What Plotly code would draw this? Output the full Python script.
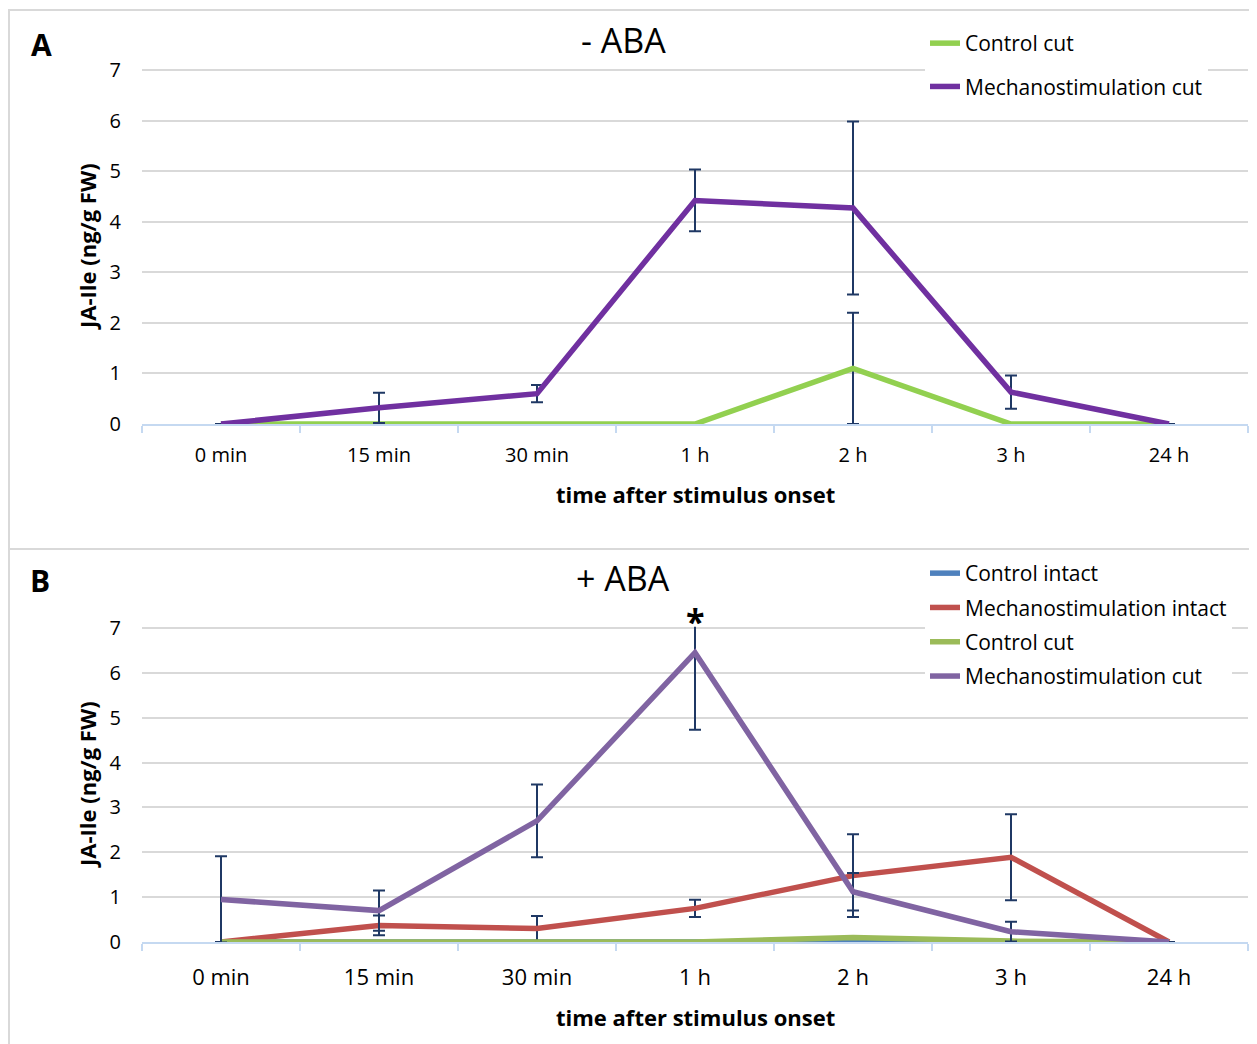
import plotly.graph_objects as go

# ---------------- data ----------------
categories = ["0 min", "15 min", "30 min", "1 h", "2 h", "3 h", "24 h"]
y_ticks = [0, 1, 2, 3, 4, 5, 6, 7]

# Panel A (- ABA)
a_control_cut = [0, 0, 0, 0, 1.10, 0, 0]
a_control_cut_err = [0, 0, 0, 0, 1.10, 0, 0]
a_mech_cut = [0, 0.32, 0.60, 4.42, 4.27, 0.63, 0]
a_mech_cut_err = [0, 0.30, 0.17, 0.61, 1.71, 0.33, 0]

# Panel B (+ ABA)
b_control_intact = [0, 0, 0, 0, 0, 0, 0]
b_mech_intact = [0, 0.37, 0.30, 0.75, 1.48, 1.89, 0]
b_mech_intact_err = [0, 0.22, 0.28, 0.19, 0.92, 0.96, 0]
b_control_cut = [0, 0, 0, 0, 0.10, 0.02, 0]
b_mech_cut = [0.95, 0.70, 2.70, 6.45, 1.12, 0.23, 0]
b_mech_cut_err = [0.96, 0.45, 0.81, 1.72, 0.42, 0.22, 0]

# ---------------- style ----------------
W, H = 1257, 1044
OFF = 8  # page body margin offset
FONT = "Open Sans"
ERR_COLOR = "#1F3864"
GRID = "#D9D9D9"
AXIS_BLUE = "#C5D9F1"
Y_TOP = 7.03  # small headroom so the 7 gridline is drawn inside the plot


def px_x(p):
    return (p - OFF) / W


def px_y(p):
    return 1 - (p - OFF) / H


def y_domain(px_zero, px_seven):
    unit = (px_zero - px_seven) / 7.0
    top = px_seven - (Y_TOP - 7) * unit
    return [px_y(px_zero), px_y(top)]


fig = go.Figure()


def err(vals):
    return dict(type="data", array=vals, visible=True, color=ERR_COLOR,
                thickness=2, width=6)


def add_line(x_ax, y_ax, y, name, color, legend, group, e=None):
    fig.add_trace(go.Scatter(
        x=categories, y=y, name=name, mode="lines",
        line=dict(color=color, width=5.5),
        error_y=err(e) if e is not None else None,
        xaxis=x_ax, yaxis=y_ax, legend=legend, legendgroup=group,
        hoverinfo="x+y+name",
    ))


# Panel A
add_line("x", "y", a_control_cut, "Control cut", "#92D050", "legend", "a1", a_control_cut_err)
add_line("x", "y", a_mech_cut, "Mechanostimulation cut", "#7030A0", "legend", "a2", a_mech_cut_err)

# Panel B
add_line("x2", "y2", b_control_intact, "Control intact", "#4F81BD", "legend2", "b1")
add_line("x2", "y2", b_mech_intact, "Mechanostimulation intact", "#C0504D", "legend2", "b2", b_mech_intact_err)
add_line("x2", "y2", b_control_cut, "Control cut", "#9BBB59", "legend2", "b3")
add_line("x2", "y2", b_mech_cut, "Mechanostimulation cut", "#8064A2", "legend2", "b4", b_mech_cut_err)

xdom = [px_x(142), px_x(1248)]


def xaxis_cfg(tick_size, anchor, standoff):
    return dict(
        domain=xdom, anchor=anchor, type="category", range=[-0.5, 6.5],
        showgrid=False, showline=True, linecolor=AXIS_BLUE, linewidth=2,
        ticks="outside", tickson="boundaries", ticklen=7, tickcolor=AXIS_BLUE,
        tickwidth=1.5, tickfont=dict(family=FONT, size=tick_size, color="#000"),
        ticklabelstandoff=standoff, automargin=False, zeroline=False,
    )


def yaxis_cfg(domain, anchor):
    return dict(
        domain=domain, anchor=anchor, range=[0, Y_TOP], tickvals=y_ticks,
        showgrid=True, gridcolor=GRID, gridwidth=2, zeroline=False,
        showline=False, ticks="", ticklabelstandoff=20, automargin=False,
        tickfont=dict(family=FONT, size=20, color="#000"),
    )


fig.update_layout(
    width=W, height=H, margin=dict(l=0, r=0, t=0, b=0, autoexpand=False),
    paper_bgcolor="white", plot_bgcolor="white",
    font=dict(family=FONT, color="#000"),
    xaxis=xaxis_cfg(20, "y", 12),
    yaxis=yaxis_cfg(y_domain(424, 70), "x"),
    xaxis2=xaxis_cfg(22, "y2", 15),
    yaxis2=yaxis_cfg(y_domain(942, 628), "x2"),
    legend=dict(x=px_x(925), y=px_y(23), xanchor="left", yanchor="top",
                bgcolor="white", borderwidth=0, traceorder="grouped",
                tracegroupgap=13, font=dict(family=FONT, size=21, color="#000")),
    legend2=dict(x=px_x(925), y=px_y(553), xanchor="left", yanchor="top",
                 bgcolor="white", borderwidth=0, traceorder="grouped",
                 tracegroupgap=4, font=dict(family=FONT, size=21, color="#000")),
    showlegend=True,
)

# panel frames
shapes = [
    dict(type="rect", xref="paper", yref="paper", x0=px_x(9), x1=px_x(1250),
         y0=px_y(549), y1=px_y(10), line=dict(color=GRID, width=2), layer="above"),
    dict(type="rect", xref="paper", yref="paper", x0=px_x(9), x1=px_x(1250),
         y0=px_y(1070), y1=px_y(549), line=dict(color=GRID, width=2), layer="above"),
]
fig.update_layout(shapes=shapes)


def label(text, x, y, size, angle=0):
    return dict(text=text, x=px_x(x), y=px_y(y), xref="paper", yref="paper",
                showarrow=False, xanchor="center", yanchor="middle", textangle=angle,
                font=dict(family=FONT, size=size, color="#000"))


annotations = [
    label("- ABA", 623, 40, 34),
    label("+ ABA", 623, 578, 34),
    label("<b>A</b>", 41, 45, 30),
    label("<b>B</b>", 40, 580, 30),
    label("<b>time after stimulus onset</b>", 695, 494, 22),
    label("<b>time after stimulus onset</b>", 695, 1017, 22),
    label("<b>JA-Ile (ng/g FW)</b>", 87, 247, 22, -90),
    label("<b>JA-Ile (ng/g FW)</b>", 87, 785, 22, -90),
    dict(text="<b>*</b>", x="1 h", y=7, xref="x2", yref="y2",
         showarrow=False, xanchor="center", yanchor="middle", yshift=7,
         font=dict(family=FONT, size=34, color="#000")),
]
fig.update_layout(annotations=annotations)

fig.write_html("out.html")
